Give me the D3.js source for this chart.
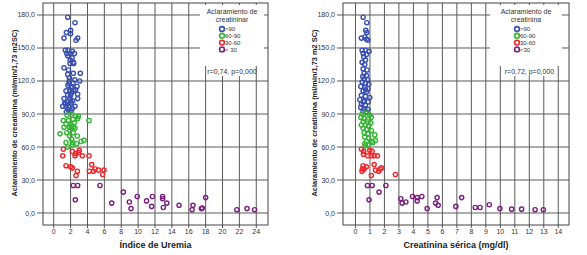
<!DOCTYPE html>
<html>
<head>
  <meta charset="utf-8">
  <title>Aclaramiento de creatinina</title>
  <script src="https://cdn.jsdelivr.net/npm/d3@7/dist/d3.min.js"></script>
  <style>
    body { margin: 0; background: #fff; }
    text { font-family: "Liberation Sans", Arial, sans-serif; }
  </style>
</head>
<body>
<svg width="587" height="255"></svg>

<script>
  // categorias de aclaramiento (leyenda)
  var groups = [">90", "60-90", "30-60", "< 30"];
  var groupsRight = [">90", "60-90", "30-60", "<30"];
  var colors = ["#3a50b2", "#35b535", "#f0262c", "#7b1f7f"];
  var yTicks = [0, 30, 60, 90, 120, 150, 180];
  var xTicksLeft = d3.range(0, 25, 2);
  var xTicksRight = d3.range(0, 15, 1);

  // Indice de uremia vs aclaramiento  [x, y]
  var uremiaBlue = [[1.66,178],[2.52,173],[1.5,164],[2.0,166],[2.0,163],[1.22,159],[2.84,159],[2.64,157],
    [1.38,148],[1.69,148],[2.2,147],[1.54,145],[1.97,145],[1.66,143],[2.17,141],[2.32,137],[1.93,136],
    [2.37,136],[1.22,132],[1.66,126],[2.32,127],[3.15,127],[1.85,123],[2.49,121],[3.08,120],[1.85,120],
    [1.69,116],[2.17,115],[2.76,115],[2.05,114],[1.46,111],[1.9,111],[2.4,111],[2.84,108],[1.66,107],
    [2.0,107],[1.22,104],[1.9,104],[2.84,104],[2.25,102],[1.61,101],[2.05,100],[1.07,97],[1.46,97],
    [1.85,96],[2.52,97],[1.69,94],[2.09,93],[1.4,99],[2.3,118],[1.8,118],[2.1,109],[2.6,112],[1.5,92],
    [1.95,139],[2.45,145],[1.75,130],[2.0,102],[2.2,95],[1.3,100]];
  var uremiaGreen = [[1.58,89],[2.13,90],[2.6,88],[2.92,88],[1.14,84],[1.73,84],[2.29,85],[2.84,86],
    [4.18,84],[1.46,81],[2.0,81],[2.44,82],[1.22,78],[1.9,78],[2.32,78],[0.75,72],[1.54,73],[1.93,75],
    [2.52,77],[2.8,70],[2.13,67],[1.46,64],[2.25,64],[2.72,63],[3.23,65],[3.59,66],[1.66,60],[2.2,62],
    [1.9,70],[2.3,73],[2.1,79]];
  var uremiaRed = [[1.14,58],[1.07,52],[2.2,56],[2.6,54],[3.03,57],[2.95,55],[4.18,52],[3.39,52],
    [2.52,52],[1.46,43],[2.0,42],[2.2,41],[2.8,38],[2.64,34],[4.5,44],[4.22,38],[4.7,38],[4.9,40],
    [5.3,39],[5.96,39],[5.8,35]];
  var uremiaPurple = [[2.32,25],[2.84,25],[2.56,12],[5.48,25],[6.87,9],[8.25,19],[8.96,10],[9.16,4],
    [9.9,15],[11.0,11],[11.7,15],[11.6,6],[12.9,15],[12.9,13],[12.99,5],[13.4,9],[14.85,7],[16.5,7],
    [16.4,3],[17.5,4],[17.6,4.5],[18.0,14],[21.7,3],[22.9,4],[23.8,3]];

  // Creatinina serica vs aclaramiento  [x, y]
  var creatBlue = [[0.53,178],[0.78,173],[0.71,166],[0.78,164],[0.41,159],[0.64,160],[0.87,157],[0.76,158],
    [0.46,148],[0.69,148],[0.94,147],[0.53,145],[0.76,144],[0.57,142],[0.69,139],[0.46,137],[0.64,135],
    [0.53,131],[0.6,127],[0.76,125],[0.6,122],[0.83,121],[0.46,119],[0.69,118],[0.92,117],[0.37,115],
    [0.64,114],[0.87,113],[0.53,111],[0.76,110],[0.41,107],[0.69,106],[0.99,105],[0.3,103],[0.6,102],
    [0.87,101],[0.41,99],[0.69,98],[0.37,96],[0.6,95],[0.87,94],[0.53,93],[0.76,92],[0.8,130],[0.5,124],
    [0.7,112],[0.55,101]];
  var creatGreen = [[0.46,90],[0.76,91],[0.99,89],[0.37,87],[0.6,86],[0.87,85],[1.1,87],[0.53,83],
    [0.83,83],[1.06,82],[0.41,80],[0.69,80],[0.92,79],[0.53,77],[0.76,76],[1.1,75],[0.6,73],[0.87,72],
    [1.33,71],[0.64,69],[0.92,68],[0.76,65],[1.11,65],[1.38,66],[0.64,63],[0.87,62],[1.2,64],[0.69,61]];
  var creatRed = [[0.41,58],[0.57,56],[0.99,57],[1.15,56],[0.55,53.5],[0.85,52],[1.1,52],[1.29,52],
    [1.52,52],[0.52,43],[0.75,42],[0.48,40],[0.6,40],[1.29,44],[1.38,39],[1.6,38],[1.7,40],[1.8,41],
    [1.1,34],[2.76,35],[0.45,38]];
  var creatPurple = [[0.83,25],[1.15,25],[0.94,12],[1.63,19],[2.1,25],[3.13,13],[3.22,9],[3.48,10],
    [3.94,15],[4.26,14],[4.26,11],[4.58,15],[4.95,4],[5.53,9],[5.64,14],[5.71,7],[6.93,6],[7.33,14],
    [8.27,5],[8.6,5],[9.24,7.5],[9.97,4],[10.78,3.5],[11.47,3.5],[12.4,3],[12.97,3]];

  var svg = d3.select("svg");
  var fmt = function(d) { return d3.format(".1f")(d).replace(".", ","); };

  function drawPanel(p) {
    var x = d3.scaleLinear().domain(p.xDomain).range([p.left, p.right]);
    var y = d3.scaleLinear().domain([-10.9, 190.9]).range([225, 3]);
    var g = svg.append("g");

    // rejilla
    g.selectAll(".vg").data(p.xTicks).enter().append("line")
      .attr("x1", d => x(d)).attr("x2", d => x(d))
      .attr("y1", 3).attr("y2", 228)
      .attr("stroke", "#5a5a5a").attr("stroke-width", 1);
    g.selectAll(".hg").data(yTicks).enter().append("line")
      .attr("x1", p.left - 6).attr("x2", p.right)
      .attr("y1", d => y(d)).attr("y2", d => y(d))
      .attr("stroke", "#5a5a5a").attr("stroke-width", 1);

    // marco
    g.append("rect")
      .attr("x", p.left).attr("y", 3)
      .attr("width", p.right - p.left).attr("height", 222)
      .attr("fill", "none").attr("stroke", "#444").attr("stroke-width", 1);

    // leyenda y etiqueta r (fondo blanco que tapa la rejilla)
    g.append("rect").attr("x", p.legX).attr("y", 5).attr("width", p.legW).attr("height", 61)
      .attr("fill", "#fff");
    g.append("rect").attr("x", p.rX0).attr("y", 66).attr("width", p.rX1 - p.rX0).attr("height", 10)
      .attr("fill", "#fff");
    g.append("text").attr("x", (p.rX0 + p.rX1) / 2).attr("y", 74)
      .attr("text-anchor", "middle").attr("font-size", 7).attr("fill", "#333")
      .text(p.rLabel);

    g.append("text").attr("x", p.legTitleX).attr("y", 14)
      .attr("text-anchor", "middle").attr("font-size", 7).attr("fill", "#333")
      .text("Aclaramiento de");
    g.append("text").attr("x", p.legTitleX).attr("y", 21.5)
      .attr("text-anchor", "middle").attr("font-size", 7).attr("fill", "#333")
      .text(p.legTitle2);
    var li = g.selectAll(".li").data(p.groups).enter().append("g")
      .attr("transform", (d, i) => "translate(" + p.legCX + "," + (29 + i * 6.8) + ")");
    li.append("circle").attr("r", 2.4).attr("fill", "none")
      .attr("stroke", (d, i) => colors[i]).attr("stroke-width", 1.6);
    li.append("text").attr("x", 3).attr("y", 2.2).attr("font-size", 6).attr("fill", "#333")
      .text(d => d);

    // puntos
    p.series.forEach(function(s, i) {
      g.selectAll(".pt" + i).data(s).enter().append("circle")
        .attr("cx", d => x(d[0])).attr("cy", d => y(d[1]))
        .attr("r", 2.1).attr("fill", "none")
        .attr("stroke", colors[i]).attr("stroke-width", 1.4);
    });

    // etiquetas de ejes
    g.selectAll(".yl").data(yTicks).enter().append("text")
      .attr("x", p.left - 8).attr("y", d => y(d) + 2.5)
      .attr("text-anchor", "end").attr("font-size", 7).attr("fill", "#333")
      .text(fmt);
    g.selectAll(".xl").data(p.xTicks).enter().append("text")
      .attr("x", d => x(d)).attr("y", 234)
      .attr("text-anchor", "middle").attr("font-size", 7).attr("fill", "#333")
      .text(d => d);

    g.append("text").attr("x", (p.left + p.right) / 2).attr("y", 248)
      .attr("text-anchor", "middle").attr("font-size", 9).attr("font-weight", "bold")
      .attr("fill", "#222").text(p.xTitle);
    g.append("text")
      .attr("transform", "translate(" + p.yTitleX + ",113) rotate(-90)")
      .attr("text-anchor", "middle").attr("font-size", 8).attr("font-weight", "bold")
      .attr("fill", "#222").attr("textLength", 167).attr("lengthAdjust", "spacingAndGlyphs")
      .text(p.yTitle);
  }

  drawPanel({
    left: 43, right: 268, xDomain: [-1.27, 25.39], xTicks: xTicksLeft,
    series: [uremiaBlue, uremiaGreen, uremiaRed, uremiaPurple],
    groups: groups, legX: 200, legW: 64, legTitleX: 232, legCX: 222, legTitle2: "creatininar",
    rX0: 209, rX1: 255, rLabel: "r=0,74, p=0,000",
    xTitle: "Índice de Uremia", yTitleX: 17,
    yTitle: "Aclaramiento de creeatinina (ml/min/1,73 m2SC)"
  });

  drawPanel({
    left: 343, right: 569, xDomain: [-0.86, 14.74], xTicks: xTicksRight,
    series: [creatBlue, creatGreen, creatRed, creatPurple],
    groups: groupsRight, legX: 490, legW: 72, legTitleX: 526, legCX: 517, legTitle2: "creatinina",
    rX0: 502, rX1: 557, rLabel: "r=0,72, p=0,000",
    xTitle: "Creatinina sérica (mg/dl)", yTitleX: 317,
    yTitle: "Aclaramiento de creatinina (ml/min/1,73 m2 SC)"
  });
</script>
</body>
</html>
